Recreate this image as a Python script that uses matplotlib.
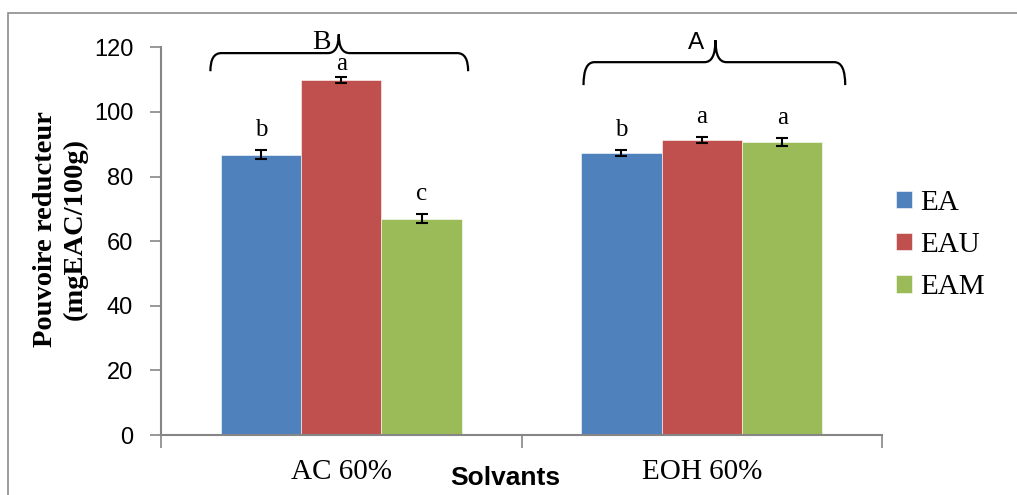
import numpy as np
import matplotlib
matplotlib.use("Agg")
import matplotlib.pyplot as plt
from matplotlib.path import Path
from matplotlib.patches import PathPatch, Rectangle

solvents = ["AC 60%", "EOH 60%"]
series = ["EA", "EAU", "EAM"]
values = {
    "EA": [86.8, 87.3],
    "EAU": [109.9, 91.3],
    "EAM": [67.0, 90.7],
}
errors = {
    "EA": [1.3, 1.0],
    "EAU": [0.9, 1.0],
    "EAM": [1.3, 1.1],
}
letters = {
    "EA": ["b", "b"],
    "EAU": ["a", "a"],
    "EAM": ["c", "a"],
}
group_letters = ["B", "A"]
colors = {"EA": "#4F81BD", "EAU": "#C0504D", "EAM": "#9BBB59"}

SERIF = ["Liberation Serif", "DejaVu Serif"]
SANS = ["Liberation Sans", "DejaVu Sans"]
AXIS_GRAY = "#868686"


def draw_brace(ax, x0, x1, xm, y, yend, ytop, dx=0.03):
    verts = [
        (x0, yend), (x0, y), (x0 + dx, y),
        (xm - dx, y), (xm, y), (xm, ytop),
        (xm, y), (xm + dx, y),
        (x1 - dx, y), (x1, y), (x1, yend),
    ]
    codes = [
        Path.MOVETO, Path.CURVE3, Path.CURVE3,
        Path.LINETO, Path.CURVE3, Path.CURVE3,
        Path.CURVE3, Path.CURVE3,
        Path.LINETO, Path.CURVE3, Path.CURVE3,
    ]
    ax.add_patch(PathPatch(Path(verts, codes), fill=False, lw=1.6,
                           color="black", clip_on=False))


fig = plt.figure(figsize=(10.17, 4.95), dpi=100)
fig.patches.append(Rectangle((8 / 1017, -0.1), 1.2, 1.1 - 13 / 495,
                             transform=fig.transFigure, fill=False,
                             edgecolor="#8c8c8c", lw=1.2))
ax = fig.add_axes([161 / 1017, 1 - 435 / 495, (882 - 161) / 1017, (435 - 47.3) / 495])

x = np.arange(len(solvents))
width = 0.223
for i, s in enumerate(series):
    pos = x + (i - 1) * width
    ax.bar(pos, values[s], width, color=colors[s], edgecolor="#ffffff",
           linewidth=0.4, label=s, zorder=2)
    ax.errorbar(pos, values[s], yerr=errors[s], fmt="none", ecolor="black",
                elinewidth=1.5, capsize=4.5, capthick=1.5, zorder=3)
    for p, v, e, lt in zip(pos, values[s], errors[s], letters[s]):
        # letters sit above the error bar, but under the brace
        ax.text(p, min(v + e + 4.4, 112.9), lt, ha="center", va="baseline",
                family=SERIF, fontsize=18)

# group braces
draw_brace(ax, -0.363, 0.352, -0.007, 118.2, 112.6, 124.0)
ax.text(-0.055, 119.6, group_letters[0], ha="center", va="baseline",
        family=SERIF, fontsize=20)
draw_brace(ax, 0.672, 1.398, 1.038, 115.4, 108.3, 122.2)
ax.text(0.985, 119.4, group_letters[1], ha="center", va="baseline",
        family=SANS, fontsize=17.5)

ax.set_xlim(-0.5, 1.5)
ax.set_ylim(0, 120)
ax.set_yticks(np.arange(0, 121, 20))
ax.set_xticks(x)
ax.set_xticklabels(solvents, family=SERIF, fontsize=21)
ax.set_xticks([-0.5, 0.5, 1.5], minor=True)
ax.tick_params(axis="x", which="major", length=0, pad=17)
ax.tick_params(axis="x", which="minor", length=9, width=1.2, color=AXIS_GRAY)
ax.tick_params(axis="y", length=8, width=1.2, color=AXIS_GRAY, labelsize=17, pad=12)
for lab in ax.get_yticklabels():
    lab.set_family(SANS)

for side in ("top", "right"):
    ax.spines[side].set_visible(False)
for side in ("left", "bottom"):
    ax.spines[side].set_color(AXIS_GRAY)
    ax.spines[side].set_linewidth(1.5)

fig.text(60 / 1017, 1 - 229 / 495, "Pouvoire reducteur\n(mgEAC/100g)",
         rotation=90, ha="center", va="center", multialignment="center",
         family=SERIF, fontweight="bold", fontsize=20.5, linespacing=1.25)
fig.text(505 / 1017, 1 - 478 / 495, "Solvants", ha="center", va="center",
         family=SANS, fontweight="bold", fontsize=19)

ax.legend(loc="center left", bbox_to_anchor=(1.019, 0.49), frameon=False,
          borderpad=0, borderaxespad=0,
          prop={"family": SERIF, "size": 21}, handlelength=0.55,
          handleheight=0.55, handletextpad=0.3, labelspacing=0.55)

fig.savefig("out.png", dpi=100)
